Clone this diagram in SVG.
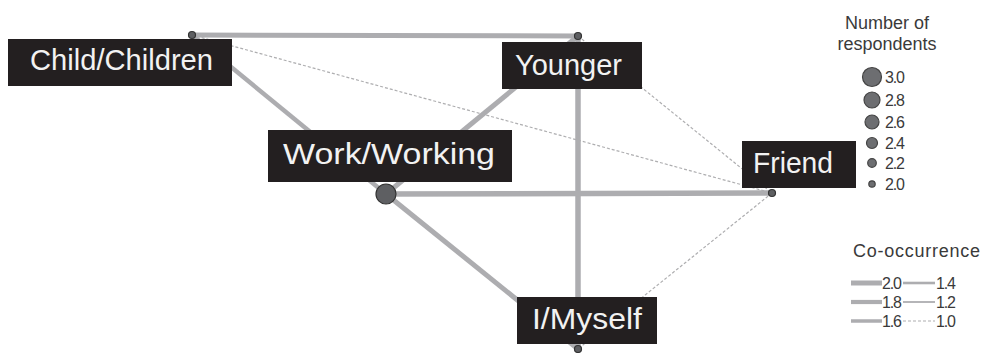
<svg xmlns="http://www.w3.org/2000/svg" width="986" height="353" viewBox="0 0 986 353">
<style>
.e{stroke:#adadb0;fill:none;stroke-linecap:butt}
.d{stroke:#aeaeb0;stroke-width:1.2;stroke-dasharray:3 2;fill:none}
.box{fill:#231f20}
.lbl{font-family:"Liberation Sans",Arial,sans-serif;font-size:29px;fill:#f2f2f2}
.dot{fill:#5e5f62;stroke:#333;stroke-width:1.2}
.lg{font-family:"Liberation Sans",Arial,sans-serif;fill:#3a3a3a}
.num{font-size:16px}
</style>
<rect width="986" height="353" fill="#fff"/>
<g id="connectors">
<line class="e" x1="192" y1="35" x2="578" y2="36" stroke-width="5"/>
<line class="e" x1="192" y1="35" x2="386" y2="194" stroke-width="4.5"/>
<line class="d" x1="192" y1="35" x2="772" y2="193"/>
<line class="e" x1="578" y1="36" x2="386" y2="194" stroke-width="5"/>
<line class="e" x1="578" y1="36" x2="578" y2="349" stroke-width="5.5"/>
<line class="d" x1="578" y1="36" x2="772" y2="193"/>
<line class="e" x1="386" y1="194" x2="772" y2="193" stroke-width="5.5"/>
<line class="e" x1="386" y1="194" x2="578" y2="349" stroke-width="5"/>
<line class="d" x1="772" y1="193" x2="578" y2="349"/>
</g>
<g id="child">
<rect class="box" x="8" y="39" width="224" height="47"/>
<text class="lbl" x="30" y="70" textLength="183" lengthAdjust="spacingAndGlyphs">Child/Children</text>
<circle class="dot" cx="192" cy="35" r="3.5"/>
</g>
<g id="younger">
<rect class="box" x="502" y="42" width="140" height="47"/>
<text class="lbl" x="515" y="75" textLength="107" lengthAdjust="spacingAndGlyphs">Younger</text>
<circle class="dot" cx="578" cy="36" r="3.5"/>
</g>
<g id="work">
<rect class="box" x="268" y="130" width="244" height="52"/>
<text class="lbl" x="283" y="164" textLength="212" lengthAdjust="spacingAndGlyphs">Work/Working</text>
<circle class="dot" cx="386" cy="194" r="10" fill="#6b6c6f"/>
</g>
<g id="friend">
<rect class="box" x="742" y="141" width="114" height="47"/>
<text class="lbl" x="753" y="173" textLength="80" lengthAdjust="spacingAndGlyphs">Friend</text>
<circle class="dot" cx="772" cy="193" r="3.5"/>
</g>
<g id="myself">
<rect class="box" x="517" y="297" width="140" height="47"/>
<text class="lbl" x="532" y="329" textLength="110" lengthAdjust="spacingAndGlyphs">I/Myself</text>
<circle class="dot" cx="578" cy="349" r="3.5"/>
</g>
<g id="legend-size">
<text class="lg" x="887" y="29" font-size="18" text-anchor="middle">Number of</text>
<text class="lg" x="887" y="50" font-size="18" text-anchor="middle">respondents</text>
<g fill="#6d6e71" stroke="#444" stroke-width="1.2">
<circle cx="872" cy="77" r="9.5"/>
<circle cx="872" cy="100" r="8"/>
<circle cx="872" cy="122" r="7"/>
<circle cx="872" cy="143" r="5.5"/>
<circle cx="872" cy="163" r="4.3"/>
<circle cx="872" cy="184" r="3.2"/>
</g>
<g class="lg num">
<text x="885" y="83" textLength="20">3.0</text>
<text x="885" y="106" textLength="20">2.8</text>
<text x="885" y="128" textLength="20">2.6</text>
<text x="885" y="149" textLength="20">2.4</text>
<text x="885" y="169" textLength="20">2.2</text>
<text x="885" y="190" textLength="20">2.0</text>
</g>
</g>
<g id="legend-lines">
<text class="lg" x="853" y="257" font-size="18" textLength="127">Co-occurrence</text>
<line class="e" x1="851" y1="283" x2="882" y2="283" stroke-width="5"/>
<line class="e" x1="903" y1="283" x2="935" y2="283" stroke-width="2.6"/>
<line class="e" x1="851" y1="302" x2="882" y2="302" stroke-width="4.2"/>
<line class="e" x1="903" y1="302" x2="935" y2="302" stroke-width="1.8"/>
<line class="e" x1="851" y1="321" x2="882" y2="321" stroke-width="3.5"/>
<line class="d" x1="903" y1="321" x2="935" y2="321"/>
<g class="lg num">
<text x="882" y="289" textLength="20">2.0</text>
<text x="936" y="289" textLength="20">1.4</text>
<text x="882" y="308" textLength="20">1.8</text>
<text x="936" y="308" textLength="20">1.2</text>
<text x="882" y="327" textLength="20">1.6</text>
<text x="936" y="327" textLength="20">1.0</text>
</g>
</g>
</svg>
